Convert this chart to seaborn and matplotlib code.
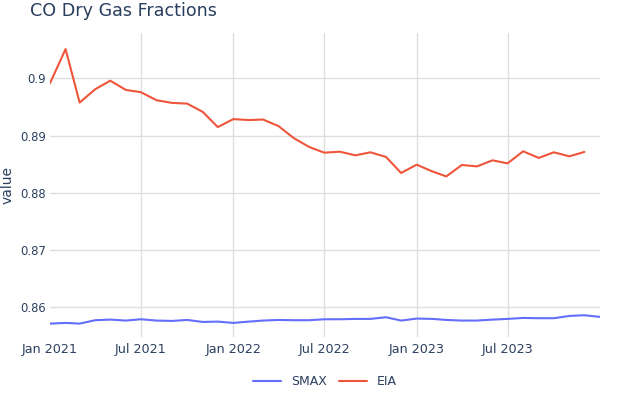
import pandas as pd
import seaborn as sns
import matplotlib.pyplot as plt
import matplotlib.dates as mdates
from matplotlib.ticker import FuncFormatter

# Monthly values
smax_months = pd.date_range('2021-01-01', '2024-01-01', freq='MS')
smax_values = [0.85715, 0.85727, 0.85715, 0.85774, 0.85785, 0.85768, 0.85791, 0.85768,
               0.85762, 0.85779, 0.85744, 0.85750, 0.85727, 0.85750, 0.85768, 0.85779,
               0.85774, 0.85774, 0.85791, 0.85791, 0.85797, 0.85797, 0.85826, 0.85768,
               0.85803, 0.85797, 0.85779, 0.85768, 0.85768, 0.85785, 0.85797, 0.85814,
               0.85809, 0.85809, 0.85849, 0.85861, 0.85832]

eia_months = pd.date_range('2021-01-01', '2023-12-01', freq='MS')
eia_values = [0.89913, 0.90510, 0.89576, 0.89809, 0.89958, 0.89797, 0.89757, 0.89617,
              0.89570, 0.89558, 0.89414, 0.89148, 0.89287, 0.89270, 0.89280, 0.89165,
              0.88957, 0.88800, 0.88701, 0.88718, 0.88654, 0.88707, 0.88626, 0.88346,
              0.88491, 0.88374, 0.88286, 0.88486, 0.88461, 0.88567, 0.88514, 0.88725,
              0.88609, 0.88707, 0.88637, 0.88714]

series_names = ['SMAX', 'EIA']
series_colors = ['#636EFA', '#EF553B']
x_ticks = pd.date_range('2021-01-01', '2023-07-01', freq='6MS')

df = pd.concat([
    pd.DataFrame({'date': smax_months, 'value': smax_values, 'variable': 'SMAX'}),
    pd.DataFrame({'date': eia_months, 'value': eia_values, 'variable': 'EIA'}),
])

sns.set_theme(style='whitegrid')
plt.rcParams['font.family'] = ['DejaVu Sans']
text_color = '#2a3f5f'

fig = plt.figure(figsize=(6.24, 3.95), dpi=100)
ax = fig.add_axes([50 / 624, 1 - 337 / 395, 550 / 624, 304 / 395])

sns.lineplot(data=df, x='date', y='value', hue='variable', hue_order=series_names,
             palette=series_colors, linewidth=1.5, ax=ax)

ax.set_xlim(pd.Timestamp('2021-01-01'), pd.Timestamp('2024-01-01'))
ax.set_ylim(0.85481, 0.90791)
ax.set_yticks([0.86, 0.87, 0.88, 0.89, 0.90])
ax.yaxis.set_major_formatter(FuncFormatter(lambda v, p: '%g' % round(v, 4)))
ax.set_xticks(x_ticks)
ax.xaxis.set_major_formatter(mdates.DateFormatter('%b %Y'))

ax.grid(True, color='#dedede', linewidth=1)
ax.xaxis.get_gridlines()[0].set_visible(False)
for s in ax.spines.values():
    s.set_visible(False)
ax.tick_params(axis='y', length=0, labelsize=8.4, colors=text_color, pad=3)
ax.tick_params(axis='x', length=0, labelsize=9.2, colors=text_color, pad=4)
ax.set_xlabel('')
ax.set_ylabel('value', fontsize=10, color=text_color)
ax.yaxis.set_label_coords(-0.064, 0.5)

fig.text(30 / 624, 1 - 11 / 395, 'CO Dry Gas Fractions', fontsize=12.6,
         color=text_color, va='center', ha='left')

ax.legend(loc='center', bbox_to_anchor=(0.5, -0.147), ncol=2, frameon=False,
          fontsize=9, handlelength=2.2, columnspacing=1.0, labelcolor=text_color)

plt.savefig('out.png', dpi=100)
